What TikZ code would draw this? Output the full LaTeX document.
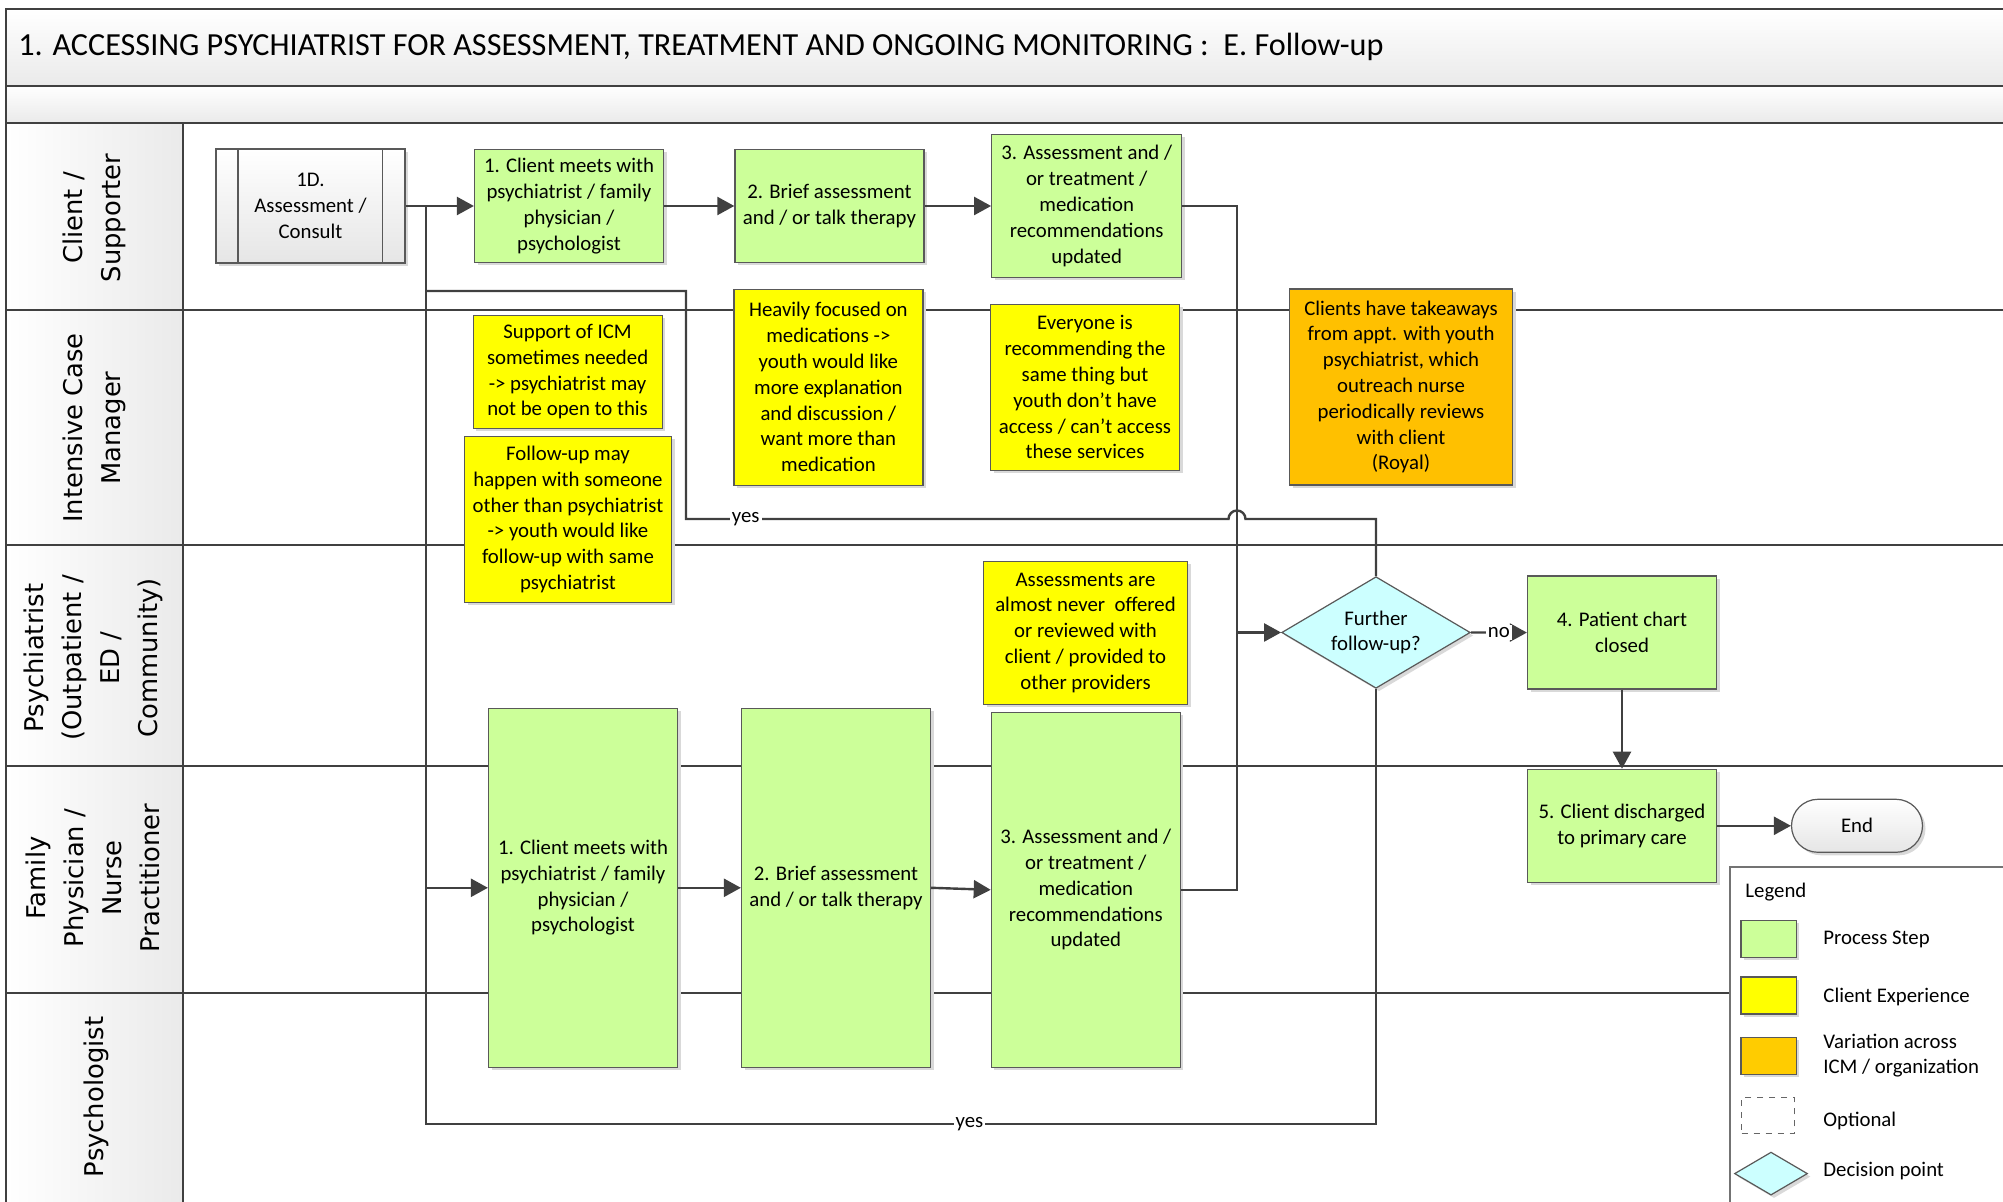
\documentclass[tikz,border=0pt]{standalone}
\usepackage{fontspec}
\setmainfont{Carlito}
\newfontfamily\lanefont{DejaVu Sans}
\usetikzlibrary{arrows.meta,shapes.geometric,shapes.misc,shadows}
\definecolor{linegray}{HTML}{404040}
\definecolor{stepgreen}{HTML}{CCFF99}
\definecolor{expyellow}{HTML}{FFFF00}
\definecolor{varorange}{HTML}{FFC000}
\definecolor{legorange}{HTML}{FFCC00}
\definecolor{decicyan}{HTML}{CCFFFF}
\definecolor{barshade}{HTML}{EAEAEA}

\begin{document}
\begin{tikzpicture}[x=0.5pt,y=0.5pt]
    \tikzstyle{every node}+=[inner sep=0pt, font=\fontsize{10.4}{12.9}\selectfont]
    \tikzstyle{frame}=[draw=linegray, line width=1pt]
    \tikzstyle{box}=[draw=black!65, line width=0.6pt, align=center, drop shadow={shadow xshift=1.5pt,shadow yshift=-1.5pt,fill=black!15,opacity=1}]
    \tikzstyle{stepbox}=[box, fill=stepgreen, minimum width=94.5pt, minimum height=56.5pt]
    \tikzstyle{expbox}=[box, fill=expyellow, minimum width=94.5pt]
    \tikzstyle{varbox}=[box, fill=varorange]
    \tikzstyle{decision}=[box, diamond, aspect=1.69, fill=decicyan, minimum width=94.3pt, minimum height=55.8pt]
    \tikzstyle{flow}=[draw=linegray, line width=1.2pt]
    \tikzstyle{arr}=[flow, -{Triangle[length=8.5pt,width=9pt]}]
    \tikzstyle{lbl}=[fill=white, inner sep=1pt]
    \tikzstyle{lanetxt}=[rotate=90, align=center, font=\lanefont\fontsize{12.9}{19}\selectfont]
    \useasboundingbox (0,0) rectangle (2003,-1202);
    \clip (0,0) rectangle (2003,-1202);
    \draw [frame, top color=white, bottom color=barshade] (6.4,-9) rectangle (2030,-85.6);
    \draw [frame, top color=white, bottom color=barshade] (6.4,-85.6) rectangle (2030,-122.6);
    \node [anchor=west, font=\fontsize{16.1}{19}\selectfont] (ttl) at (18,-47) {1. ACCESSING PSYCHIATRIST FOR ASSESSMENT, TREATMENT AND ONGOING MONITORING :~ E. Follow-up};
    \draw [frame, left color=white, right color=barshade] (6.4,-122.6) rectangle (182.7,-310.4);
    \draw [frame, left color=white, right color=barshade] (6.4,-310.4) rectangle (182.7,-545.4);
    \draw [frame, left color=white, right color=barshade] (6.4,-545.4) rectangle (182.7,-766.4);
    \draw [frame, left color=white, right color=barshade] (6.4,-766.4) rectangle (182.7,-992.5);
    \draw [frame, left color=white, right color=barshade] (6.4,-992.5) rectangle (182.7,-1230);
    \draw [frame] (182.7,-310.4) -- (2030,-310.4);
    \draw [frame] (182.7,-545.4) -- (2030,-545.4);
    \draw [frame] (182.7,-766.4) -- (2030,-766.4);
    \draw [frame] (182.7,-992.5) -- (1730,-992.5);
    \node [lanetxt] (lnclient) at (94.5,-218) {Client /\\Supporter};
    \node [lanetxt] (lnicm) at (94.5,-428) {Intensive Case\\Manager};
    \node [lanetxt] (lnpsych) at (93,-658) {Psychiatrist\\(Outpatient /\\ED /\\Community)};
    \node [lanetxt] (lnfam) at (93,-878) {Family\\Physician /\\Nurse\\Practitioner};
    \node [lanetxt] (lnpsyc) at (96,-1097) {Psychologist};
    \node [box, top color=white, bottom color=black!10, minimum width=94.5pt, minimum height=57pt] (d1) at (310.5,-206) {1D.\\Assessment /\\Consult};
    \draw [draw=black!65, line width=0.6pt] ([xshift=11.25pt]d1.north west) -- ([xshift=11.25pt]d1.south west);
    \draw [draw=black!65, line width=0.6pt] ([xshift=-11.5pt]d1.north east) -- ([xshift=-11.5pt]d1.south east);
    \node [stepbox] (a1) at (569,-206) {1. Client meets with\\psychiatrist / family\\physician /\\psychologist};
    \node [stepbox] (a2) at (829.4,-206) {2. Brief assessment\\and / or talk therapy};
    \node [stepbox, minimum width=95pt, minimum height=71.5pt] (a3) at (1086.7,-206) {3. Assessment and /\\or treatment /\\medication\\recommendations\\updated};
    \node [expbox, minimum height=56.5pt] (y1) at (567.6,-371.8) {Support of ICM\\sometimes needed\\-> psychiatrist may\\not be open to this};
    \node [expbox, minimum width=103.5pt, minimum height=83pt] (y2) at (568,-519.5) {Follow-up may\\happen with someone\\other than psychiatrist\\-> youth would like\\follow-up with same\\psychiatrist};
    \node [expbox, minimum height=98pt] (y3) at (828.4,-387.2) {Heavily focused on\\medications ->\\youth would like\\more explanation\\and discussion /\\want more than\\medication};
    \node [expbox, minimum height=83pt] (y4) at (1085,-387.3) {Everyone is\\recommending the\\same thing but\\youth don’t have\\access / can’t access\\these services};
    \node [varbox, minimum width=111.5pt, minimum height=98pt] (vr) at (1401,-387) {Clients have takeaways\\from appt. with youth\\psychiatrist, which\\outreach nurse\\periodically reviews\\with client\\(Royal)};
    \node [expbox, minimum width=102pt, minimum height=71.5pt] (y5) at (1085.5,-632.7) {Assessments are\\almost never~ offered\\or reviewed with\\client / provided to\\other providers};
    \node [decision] (dia) at (1376,-632.5) {Further\\follow-up?};
    \node [stepbox] (p4) at (1622,-632.6) {4. Patient chart\\closed};
    \node [stepbox] (p5) at (1622,-825.8) {5. Client discharged\\to primary care};
    \node [box, rounded rectangle, top color=white, bottom color=black!10, minimum width=65.5pt, minimum height=26.5pt] (end) at (1857,-825.8) {End};
    \node [stepbox, minimum height=179.5pt] (b1) at (583,-887.8) {1. Client meets with\\psychiatrist / family\\physician /\\psychologist};
    \node [stepbox, minimum height=179.5pt] (b2) at (836,-887.8) {2. Brief assessment\\and / or talk therapy};
    \node [stepbox, minimum height=177.5pt] (b3) at (1085.8,-889.8) {3. Assessment and /\\or treatment /\\medication\\recommendations\\updated};
    \coordinate (jn) at (426,-206);
    \coordinate (lowc) at (426,-1124);
    \coordinate (topc) at (426,-291);
    \coordinate (bendu) at (686,-519);
    \coordinate (hop) at (1237,-519);
    \coordinate (mg) at (1237,-632.5);
    \draw [arr] (d1.east) -- (a1.west);
    \draw [arr] (a1.east) -- (a2.west);
    \draw [arr] (a2.east) -- (a3.west);
    \draw [arr] (jn |- b1.west) -- (b1.west);
    \draw [arr] (b1.east) -- (b2.west);
    \draw [arr] (b2.east) -- (b3.west);
    \draw [flow] (a3.east) -| (mg);
    \draw [flow] (b3.east) -| (mg);
    \draw [arr] (mg) -- (dia.west);
    \draw [arr] (dia.east) -- node[lbl]{no} (p4.west);
    \draw [arr] (p4.south) -- (p5.north);
    \draw [arr] (p5.east) -- (end.west);
    \draw [flow] (dia.south) |- node[lbl,pos=0.714]{yes} (lowc) -- (jn);
    \draw [flow] (dia.north) |- ([xshift=4.25pt]hop) arc[start angle=0,end angle=180,radius=4.25pt] -- node[lbl,pos=0.89]{yes} (bendu) |- (topc);
    \draw [draw=black!55, line width=0.6pt, fill=white] (1730,-867) rectangle (2030,-1230);
    \node [anchor=west] (lgtitle) at (1745,-892) {Legend};
    \node [box, fill=stepgreen, minimum width=27.75pt, minimum height=18.5pt] (lgstep) at (1768.7,-938.7) {};
    \node [anchor=west] (lgsteptxt) at (1823,-939) {Process Step};
    \node [box, fill=expyellow, minimum width=27.75pt, minimum height=18.5pt] (lgexp) at (1768.7,-995.4) {};
    \node [anchor=west] (lgexptxt) at (1823,-996.7) {Client Experience};
    \node [box, fill=legorange, minimum width=27.75pt, minimum height=18.5pt] (lgvar) at (1768.7,-1055.8) {};
    \node [anchor=west, align=left] (lgvartxt) at (1823,-1055.5) {Variation across\\ICM / organization};
    \node [draw=black!60, dashed, line width=0.5pt, minimum width=26.5pt, minimum height=17.8pt] (lgopt) at (1768,-1115.5) {};
    \node [anchor=west] (lgopttxt) at (1823,-1121) {Optional};
    \node [box, diamond, fill=decicyan, minimum width=36.5pt, minimum height=21.5pt] (lgdec) at (1771,-1173.6) {};
    \node [anchor=west] (lgdectxt) at (1823,-1170.7) {Decision point};
\end{tikzpicture}
\end{document}
